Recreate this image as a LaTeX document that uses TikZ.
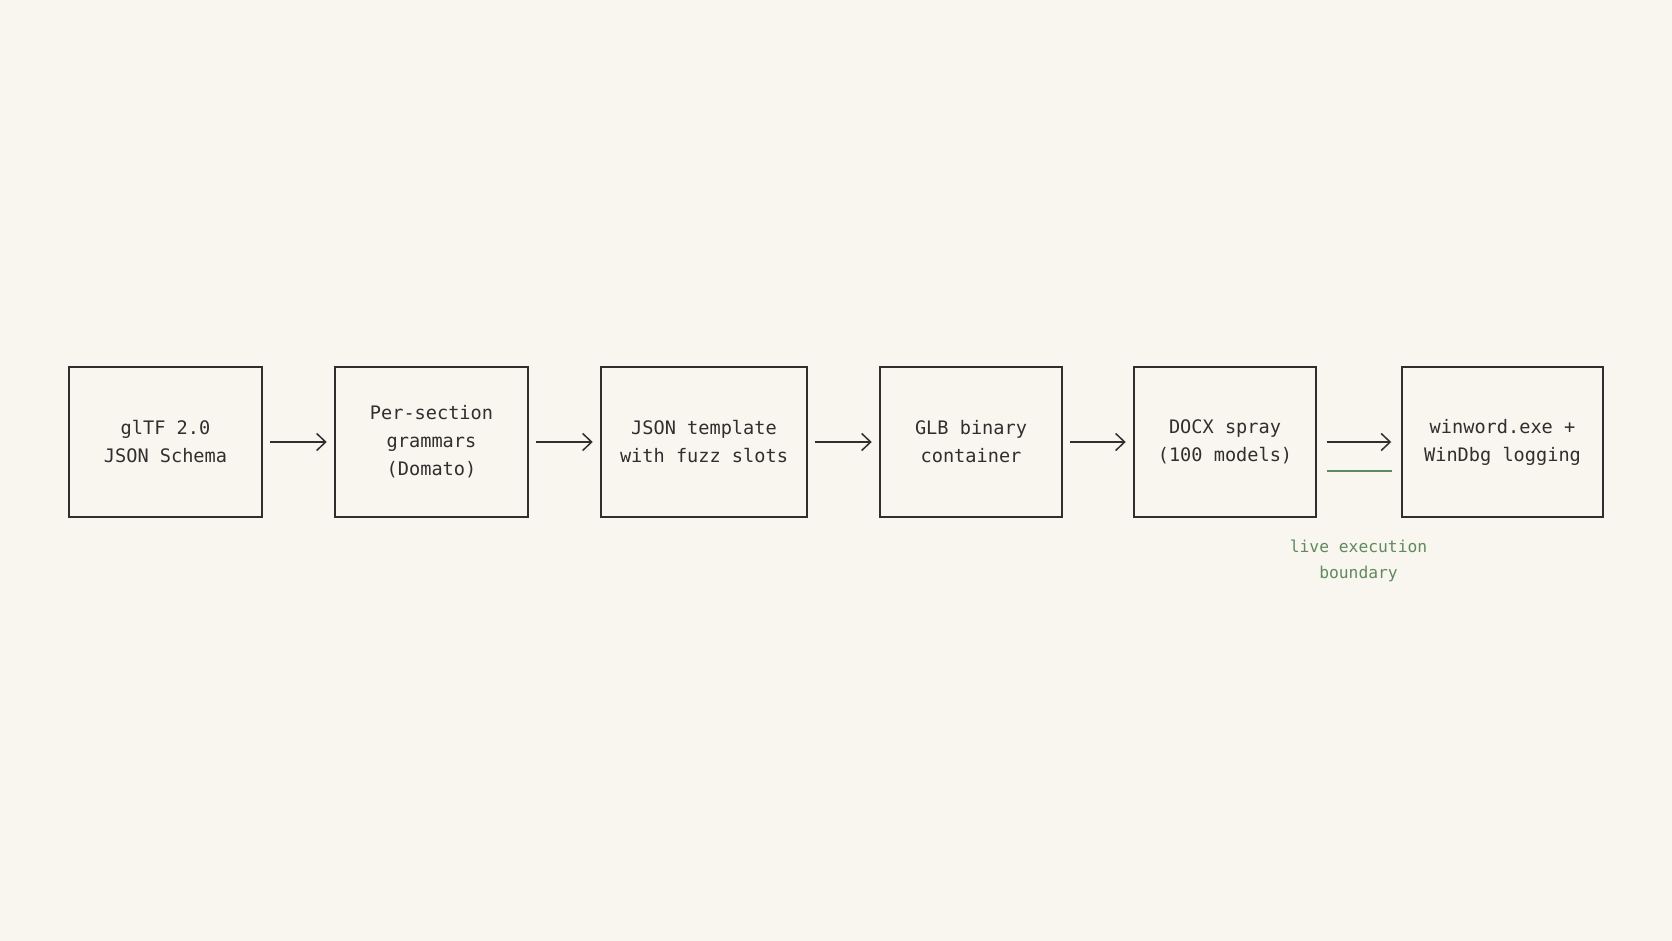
\documentclass[tikz,border=0pt]{standalone}
\usepackage{fontspec}
\setmonofont{DejaVu Sans Mono}
\usetikzlibrary{arrows.meta}
\definecolor{bg}{HTML}{F9F6EF}
\definecolor{ink}{HTML}{2F2F2F}
\definecolor{grn}{HTML}{5E8A5E}
\begin{document}
\begin{tikzpicture}[x=1pt,y=-1pt,
  box/.style={draw=ink, line width=1.5pt, minimum height=150pt, inner sep=0pt,
    align=center, font=\ttfamily\fontsize{18.6}{28}\selectfont, text=ink},
  flow/.style={draw=ink, line width=1.5pt, shorten <=7.5pt, shorten >=7.5pt,
    -{Straight Barb[length=9pt,width=17pt]}},
  note/.style={align=center, text=grn, font=\ttfamily\fontsize{16.3}{25.6}\selectfont},
  boundary/.style={draw=grn, line width=2pt}]
\path[fill=bg] (0,0) rectangle (1672,941);
\node[box, minimum width=193pt] (b1) at (165.5,442) {glTF 2.0\\JSON Schema};
\node[box, minimum width=193pt] (b2) at (431.5,442) {Per-section\\grammars\\(Domato)};
\node[box, minimum width=206pt] (b3) at (704,442) {JSON template\\with fuzz slots};
\node[box, minimum width=182pt] (b4) at (971,442) {GLB binary\\container};
\node[box, minimum width=182pt] (b5) at (1225,442) {DOCX spray\\(100 models)};
\node[box, minimum width=201pt] (b6) at (1502.5,442) {winword.exe +\\WinDbg logging};
\draw[flow] (b1) -- (b2);
\draw[flow] (b2) -- (b3);
\draw[flow] (b3) -- (b4);
\draw[flow] (b4) -- (b5);
\draw[flow, shorten <=10pt, shorten >=10pt] (b5) -- (b6);
\coordinate (g1) at (1326.5,470.5);
\coordinate (g2) at (1391.5,470.5);
\draw[boundary] (g1) -- (g2);
\node[note] (lbl) at (1358.5,561) {live execution\\boundary};
\end{tikzpicture}
\end{document}
